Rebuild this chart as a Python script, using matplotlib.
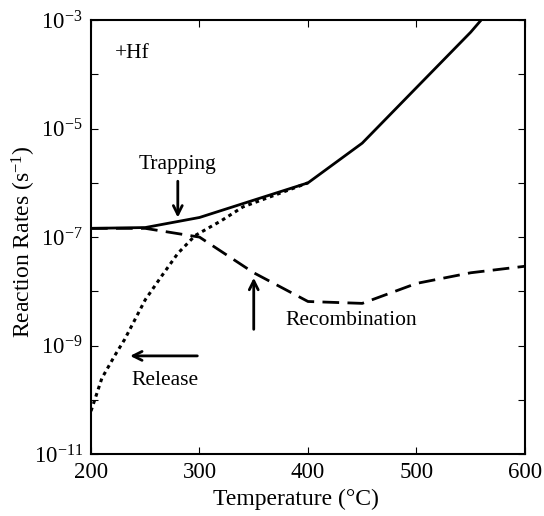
import math
import matplotlib
matplotlib.use("Agg")
import matplotlib.pyplot as plt
from matplotlib.ticker import FixedLocator, FuncFormatter

plt.rcParams["font.family"] = ["Liberation Serif", "DejaVu Serif"]
plt.rcParams["mathtext.fontset"] = "custom"
plt.rcParams["mathtext.rm"] = "Liberation Serif"
plt.rcParams["mathtext.it"] = "Liberation Serif:italic"

# values
temp_trap = [200, 250, 300, 350, 400, 450, 500, 550, 600]
rate_trap = [1.45e-7, 1.5e-7, 2.3e-7, 4.8e-7, 1.0e-6, 5.4e-6, 5.7e-5, 6.0e-4, 8.7e-3]

temp_recomb = [200, 250, 300, 350, 400, 450, 500, 550, 600]
rate_recomb = [1.45e-7, 1.45e-7, 1.0e-7, 2.2e-8, 6.5e-9, 6.0e-9, 1.4e-8, 2.2e-8, 2.9e-8]

temp_release = [200, 210, 222, 231, 250, 265, 280, 296, 320, 340, 370, 400]
rate_release = [6.2e-11, 2.5e-10, 6.6e-10, 1.3e-9, 7.0e-9, 1.9e-8, 5.0e-8, 1.07e-7, 2.0e-7, 3.6e-7, 6.0e-7, 1.0e-6]

x_ticks = [200, 300, 400, 500, 600]
y_exps = list(range(-11, -2))

fig = plt.figure(figsize=(5.44, 5.16), dpi=100)
ax = fig.add_axes([0.1673, 0.12, 0.7977, 0.841])

ax.plot(temp_trap, rate_trap, color="black", lw=2.0)
ax.plot(temp_recomb, rate_recomb, color="black", lw=2.0, ls=(0, (6, 3)))
ax.plot(temp_release, rate_release, color="black", lw=2.2, ls=(0, (1.2, 1.3)))

ax.set_yscale("log")
ax.set_xlim(200, 600)
ax.set_ylim(1e-11, 1e-3)

ax.xaxis.set_major_locator(FixedLocator(x_ticks))
ax.yaxis.set_major_locator(FixedLocator([10.0 ** e for e in y_exps]))
ax.yaxis.set_minor_locator(FixedLocator([]))


def fmt_y(v, pos):
    e = int(round(math.log10(v)))
    if e % 2 == 0:
        return ""
    return r"$\mathregular{10^{%d}}$" % e


ax.yaxis.set_major_formatter(FuncFormatter(fmt_y))
ax.tick_params(which="both", direction="in", top=True, right=True,
               length=5, width=0.8, labelsize=16.5, pad=6)
for s in ax.spines.values():
    s.set_linewidth(1.5)

ax.set_xlabel("Temperature (\u00b0C)", fontsize=17)
ax.set_ylabel(r"Reaction Rates (s$^{\mathregular{-1}}$)", fontsize=17)
ax.xaxis.set_label_coords(0.472, -0.08)
ax.yaxis.set_label_coords(-0.122, 0.49)

ax.text(238, 10 ** -3.62, "+Hf", fontsize=15.5, ha="center", va="center")
ax.text(280, 10 ** -5.66, "Trapping", fontsize=15.5, ha="center", va="center")
ax.text(440, 10 ** -8.53, "Recombination", fontsize=15.5, ha="center", va="center")
ax.text(268, 10 ** -9.64, "Release", fontsize=15.5, ha="center", va="center")

arrow = dict(arrowstyle="->", color="black", lw=2, mutation_scale=16, shrinkA=0, shrinkB=0)
ax.annotate("", xy=(280, 10 ** -6.64), xytext=(280, 10 ** -5.97), arrowprops=arrow)
ax.annotate("", xy=(350, 10 ** -7.75), xytext=(350, 10 ** -8.7), arrowprops=arrow)
ax.annotate("", xy=(236, 10 ** -9.19), xytext=(298, 10 ** -9.19), arrowprops=arrow)

fig.savefig("out.png", dpi=100)
